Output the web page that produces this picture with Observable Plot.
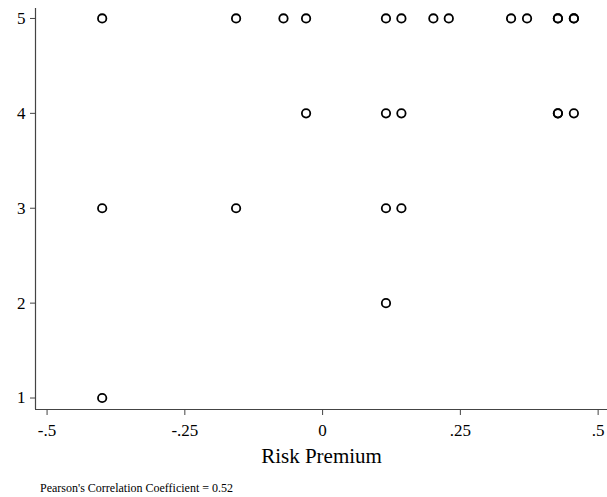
<!DOCTYPE html>
<html>
<head>
<meta charset="utf-8">
<script src="https://cdn.jsdelivr.net/npm/d3@7"></script>
<script src="https://cdn.jsdelivr.net/npm/@observablehq/plot@0.6"></script>
<style>
  body { margin: 0; background: #fff; font-family: "Liberation Serif", serif; }
  #caption { position: absolute; left: 40px; top: 481px; font-size: 12px; color: #000; white-space: nowrap; font-family: "Liberation Serif", serif; }
  svg text { font-family: "Liberation Serif", serif !important; }
</style>
</head>
<body>
<div id="chart"></div>
<div id="caption"></div>
<script>
// Data (x = risk premium, y = rating)
const riskPremium = [
  -0.400, -0.157, -0.071, -0.030, 0.115, 0.143, 0.201, 0.229, 0.342, 0.371, 0.427, 0.427, 0.456, 0.456,
  -0.030, 0.115, 0.143, 0.427, 0.427, 0.456,
  -0.400, -0.157, 0.115, 0.143,
  0.115,
  -0.400
];
const rating = [
  5, 5, 5, 5, 5, 5, 5, 5, 5, 5, 5, 5, 5, 5,
  4, 4, 4, 4, 4, 4,
  3, 3, 3, 3,
  2,
  1
];
const xTicks = [-0.5, -0.25, 0, 0.25, 0.5];
const xTickLabels = ["-.5", "-.25", "0", ".25", ".5"];
const yTicks = [1, 2, 3, 4, 5];
const xTitle = "Risk Premium";
const captionText = "Pearson's Correlation Coefficient = 0.52";

const points = riskPremium.map((x, i) => ({x, y: rating[i]}));
const xDomain = [-0.521, 0.517];
const yDomain = [0.879, 5.105];
const axisColor = "#444";
const serif = "Liberation Serif";

const chart = Plot.plot({
  width: 607,
  height: 475,
  marginLeft: 35,
  marginRight: 0,
  marginTop: 8,
  marginBottom: 66,
  style: {fontFamily: serif, background: "#fff", color: "#000"},
  x: {domain: xDomain},
  y: {domain: yDomain},
  marks: [
    Plot.ruleX([xDomain[0]], {stroke: axisColor, strokeWidth: 1.2}),
    Plot.ruleY([yDomain[0]], {stroke: axisColor, strokeWidth: 1.2}),
    Plot.axisX({
      ticks: xTicks,
      tickFormat: (d) => xTickLabels[xTicks.indexOf(d)],
      tickSize: 6,
      tickPadding: 8,
      fontSize: 17,
      fontFamily: serif,
      stroke: axisColor,
      label: null
    }),
    Plot.axisY({
      ticks: yTicks,
      tickFormat: (d) => String(d),
      tickSize: 5,
      tickPadding: 5,
      fontSize: 17,
      fontFamily: serif,
      stroke: axisColor,
      label: null
    }),
    Plot.text([xTitle], {
      frameAnchor: "bottom",
      dy: 53,
      text: (d) => d,
      fontSize: 21,
      fontFamily: serif,
      fill: "#000"
    }),
    Plot.dot(points, {x: "x", y: "y", r: 4.2, stroke: "#000", strokeWidth: 1.8, fill: "none"})
  ]
});
document.getElementById("chart").append(chart);
document.getElementById("caption").textContent = captionText;
</script>
</body>
</html>
